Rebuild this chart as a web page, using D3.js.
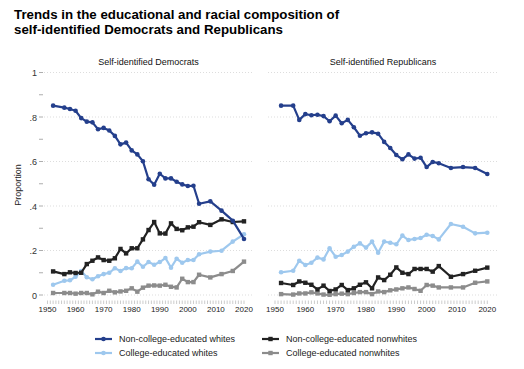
<!DOCTYPE html>
<html><head><meta charset="utf-8">
<script src="https://cdn.jsdelivr.net/npm/d3@7"></script>
<style>body{margin:0;background:#fff;font-family:"Liberation Sans",Arial,Helvetica,sans-serif;}</style>
</head><body><svg id="c" width="524" height="369"></svg>
<script>
const years = [1952,1956,1958,1960,1962,1964,1966,1968,1970,1972,1974,1976,1978,1980,1982,1984,1986,1988,1990,1992,1994,1996,1998,2000,2002,2004,2008,2012,2016,2020];
const seriesNames = ["Non-college-educated whites","College-educated whites","Non-college-educated nonwhites","College-educated nonwhites"];
const demNonCollWhite = [0.851,0.842,0.836,0.828,0.795,0.779,0.776,0.745,0.751,0.739,0.715,0.677,0.685,0.650,0.632,0.601,0.520,0.496,0.545,0.524,0.524,0.509,0.497,0.490,0.491,0.410,0.421,0.379,0.334,0.252];
const demCollWhite = [0.046,0.064,0.066,0.082,0.108,0.080,0.071,0.084,0.094,0.100,0.120,0.108,0.121,0.120,0.150,0.127,0.148,0.136,0.148,0.166,0.123,0.163,0.145,0.157,0.157,0.183,0.195,0.199,0.240,0.273];
const demNonCollNonwhite = [0.106,0.094,0.102,0.099,0.100,0.139,0.154,0.169,0.157,0.154,0.165,0.207,0.187,0.210,0.210,0.250,0.292,0.328,0.277,0.276,0.322,0.297,0.291,0.304,0.307,0.327,0.315,0.340,0.328,0.331];
const demCollNonwhite = [0.009,0.009,0.009,0.006,0.009,0.009,0.003,0.015,0.009,0.019,0.012,0.016,0.019,0.030,0.015,0.033,0.042,0.043,0.042,0.046,0.037,0.034,0.073,0.058,0.058,0.091,0.079,0.094,0.108,0.150];
const repNonCollWhite = [0.851,0.851,0.787,0.813,0.808,0.810,0.804,0.781,0.806,0.772,0.787,0.754,0.716,0.727,0.731,0.725,0.688,0.661,0.629,0.610,0.632,0.613,0.617,0.575,0.598,0.592,0.571,0.575,0.571,0.544];
const repCollWhite = [0.102,0.109,0.154,0.135,0.145,0.168,0.160,0.210,0.172,0.180,0.195,0.217,0.232,0.213,0.240,0.190,0.240,0.235,0.228,0.267,0.247,0.252,0.256,0.271,0.265,0.250,0.319,0.307,0.277,0.280];
const repNonCollNonwhite = [0.054,0.045,0.061,0.055,0.046,0.025,0.042,0.018,0.025,0.045,0.022,0.030,0.046,0.057,0.030,0.079,0.067,0.091,0.124,0.100,0.094,0.117,0.117,0.117,0.105,0.130,0.082,0.094,0.109,0.123];
const repCollNonwhite = [0.004,0.002,0.007,0.007,0.012,0.007,0.002,0.001,0.004,0.006,0.004,0.009,0.013,0.013,0.004,0.016,0.013,0.021,0.025,0.030,0.034,0.027,0.019,0.045,0.042,0.034,0.034,0.034,0.055,0.061];
const xTickLabels = [1950,1960,1970,1980,1990,2000,2010,2020];
const yTickLabels = [0,0.2,0.4,0.6,0.8,1];
const panelTitles = ["Self-identified Democrats","Self-identified Republicans"];

const colors = ["#243f8c","#9ec8ee","#222222","#8c8c8c"];
const shapes = ["circle","circle","square","square"];

const svg = d3.select("#c");
svg.append("text").attr("x",14).attr("y",18.5).attr("font-size",13.3).attr("font-weight","bold").attr("fill","#000").text("Trends in the educational and racial composition of");
svg.append("text").attr("x",14).attr("y",33.5).attr("font-size",13.3).attr("font-weight","bold").attr("fill","#000").text("self-identified Democrats and Republicans");

const y = d3.scaleLinear().domain([0,1]).range([295,72.5]);
const panels = [
  {title:panelTitles[0], x:d3.scaleLinear().domain([1950,2020]).range([47.5,244]), g0:44, g1:253, data:[demNonCollWhite,demCollWhite,demNonCollNonwhite,demCollNonwhite]},
  {title:panelTitles[1], x:d3.scaleLinear().domain([1950,2020]).range([275,487.3]), g0:268, g1:498, data:[repNonCollWhite,repCollWhite,repNonCollNonwhite,repCollNonwhite]}
];

// y axis
const yAxis = svg.append("g");
d3.range(0,1.0001,0.1).forEach((v,i)=>{
  yAxis.append("line").attr("x1",39).attr("x2",43).attr("y1",y(v)).attr("y2",y(v)).attr("stroke","#999").attr("stroke-width",0.8);
});
yTickLabels.forEach(v=>{
  yAxis.append("text").attr("x",37).attr("y",y(v)+3.5).attr("text-anchor","end").attr("font-size",9).attr("fill","#333")
    .text(v===0?"0":v===1?"1":d3.format(".1f")(v).replace(/^0/,""));
});
svg.append("text").attr("transform","translate(21,185) rotate(-90)").attr("text-anchor","middle").attr("font-size",9).attr("fill","#222").text("Proportion");

panels.forEach(p=>{
  const g = svg.append("g");
  g.append("text").attr("x",(p.g0+p.g1)/2).attr("y",65).attr("text-anchor","middle").attr("font-size",9).attr("fill","#111").text(p.title);
  yTickLabels.forEach(v=>{
    g.append("line").attr("x1",p.g0).attr("x2",p.g1).attr("y1",y(v)).attr("y2",y(v))
      .attr("stroke","#d4d4d4").attr("stroke-width",0.8).attr("stroke-dasharray","1,2");
  });
  d3.range(1950,2021).forEach(yr=>{
    g.append("line").attr("x1",p.x(yr)).attr("x2",p.x(yr)).attr("y1",300.5).attr("y2",304).attr("stroke","#aaa").attr("stroke-width",0.6);
  });
  xTickLabels.forEach(yr=>{
    g.append("text").attr("x",p.x(yr)).attr("y",312).attr("text-anchor","middle").attr("font-size",8).attr("fill","#222").text(yr);
  });
  const line = d3.line().x((d,i)=>p.x(years[i])).y(d=>y(d));
  [1,3,2,0].forEach(si=>{
    const vals = p.data[si];
    g.append("path").attr("d",line(vals)).attr("fill","none").attr("stroke",colors[si]).attr("stroke-width",2.2).attr("stroke-linejoin","round");
    vals.forEach((v,i)=>{
      if(shapes[si]==="circle") g.append("circle").attr("cx",p.x(years[i])).attr("cy",y(v)).attr("r",2.3).attr("fill",colors[si]);
      else g.append("rect").attr("x",p.x(years[i])-2.2).attr("y",y(v)-2.2).attr("width",4.4).attr("height",4.4).attr("fill",colors[si]);
    });
  });
});

// legend
const legPos = [[95,339],[95,353],[262,339],[262,353]];
seriesNames.forEach((n,i)=>{
  const [lx,ly] = legPos[i];
  const lg = svg.append("g");
  lg.append("line").attr("x1",lx).attr("x2",lx+17).attr("y1",ly).attr("y2",ly).attr("stroke",colors[i]).attr("stroke-width",2.2);
  if(shapes[i]==="circle") lg.append("circle").attr("cx",lx+8.5).attr("cy",ly).attr("r",2.3).attr("fill",colors[i]);
  else lg.append("rect").attr("x",lx+6.3).attr("y",ly-2.2).attr("width",4.4).attr("height",4.4).attr("fill",colors[i]);
  lg.append("text").attr("x",lx+24).attr("y",ly+3.3).attr("font-size",9).attr("fill","#222").text(n);
});
</script></body></html>
